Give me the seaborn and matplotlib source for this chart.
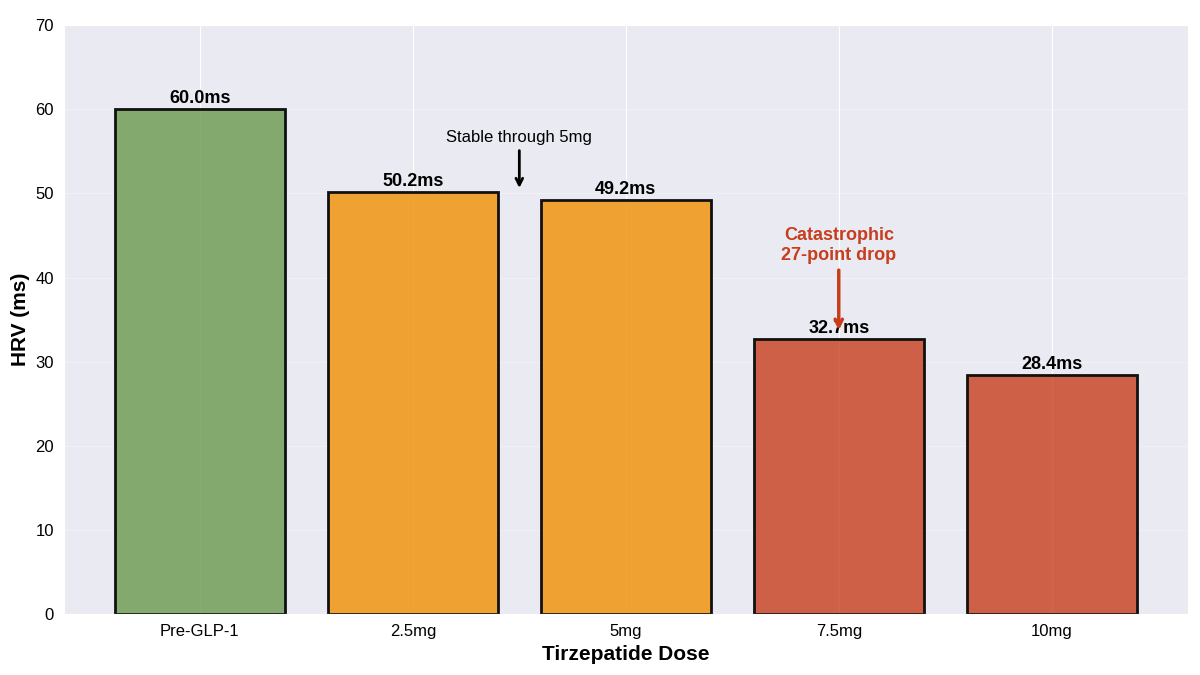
import numpy as np
import pandas as pd
import seaborn as sns
from matplotlib import pyplot as plt
from matplotlib.colors import to_rgba

# data
doses = ['Pre-GLP-1', '2.5mg', '5mg', '7.5mg', '10mg']
hrv = [60.0, 50.2, 49.2, 32.7, 28.4]
bar_colors = ['#6a994e', '#f18f01', '#f18f01', '#c73e1d', '#c73e1d']

sns.set_style('darkgrid')
plt.rcParams['font.family'] = ['Liberation Sans', 'DejaVu Sans']
plt.rcParams['text.color'] = 'black'
plt.rcParams['axes.labelcolor'] = 'black'
plt.rcParams['xtick.color'] = 'black'
plt.rcParams['ytick.color'] = 'black'

df = pd.DataFrame({'dose': doses, 'hrv': hrv})

fig, ax = plt.subplots(figsize=(12, 6.75), dpi=100)
sns.barplot(data=df, x='dose', y='hrv', hue='dose', palette=bar_colors,
            legend=False, edgecolor='black', linewidth=2,
            width=0.8, ax=ax, saturation=1)
# translucent fill, solid black outline
for p, c in zip(ax.patches, bar_colors):
    p.set_facecolor(to_rgba(c, 0.8))
    p.set_edgecolor('#111111')

# value labels on top of bars
for i, v in enumerate(hrv):
    ax.text(i, v + 0.2, f'{v:.1f}ms', ha='center', va='bottom',
            fontsize=13, fontweight='bold', color='black')

ax.annotate('Stable through 5mg', xy=(1.5, 50.3), xytext=(1.5, 55.8),
            ha='center', va='bottom', fontsize=12, color='black',
            arrowprops=dict(arrowstyle='->', color='black', lw=2))
ax.annotate('Catastrophic\n27-point drop', xy=(3, 33.4), xytext=(3, 41.6),
            ha='center', va='bottom', fontsize=13, fontweight='bold',
            color='#c73e1d',
            arrowprops=dict(arrowstyle='->', color='#c73e1d', lw=2.5))

ax.set_ylim(0, 70)
ax.set_xlim(-0.64, 4.64)
ax.set_xlabel('Tirzepatide Dose', fontsize=15, fontweight='bold')
ax.set_ylabel('HRV (ms)', fontsize=15, fontweight='bold')
ax.tick_params(axis='both', labelsize=12)
ax.grid(axis='x', color='white', alpha=1)
ax.grid(axis='y', alpha=0.3)
ax.set_axisbelow(True)

plt.subplots_adjust(left=0.053, right=0.99, top=0.963, bottom=0.09)
plt.savefig('out.png', dpi=100)
